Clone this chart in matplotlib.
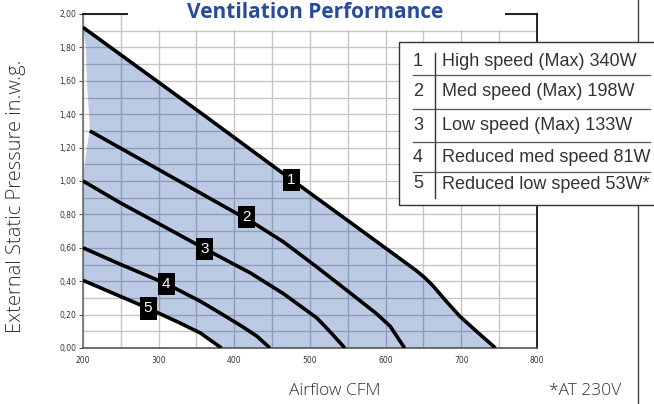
import matplotlib
matplotlib.use("Agg")
import matplotlib.pyplot as plt
from matplotlib.patches import Polygon, Rectangle
from matplotlib.lines import Line2D
from matplotlib.ticker import FuncFormatter, MultipleLocator

# === DATA ===

cfm_1 = [200, 355, 475, 560, 640, 652, 663, 680, 698, 720, 745]
esp_1 = [1.92, 1.41, 1.01, 0.73, 0.465, 0.42, 0.37, 0.28, 0.19, 0.10, 0.0]

cfm_2 = [209, 297, 368, 425, 465, 509, 553, 588, 606, 625]
esp_2 = [1.30, 1.076, 0.895, 0.75, 0.635, 0.485, 0.33, 0.205, 0.13, 0.0]

cfm_3 = [200, 249, 302, 361, 421, 465, 509, 526, 546]
esp_3 = [1.00, 0.87, 0.74, 0.594, 0.45, 0.325, 0.18, 0.10, 0.0]

cfm_4 = [200, 250, 310, 355, 381, 410, 430, 447]
esp_4 = [0.60, 0.50, 0.385, 0.28, 0.21, 0.13, 0.07, 0.0]

cfm_5 = [200, 249, 286, 328, 355, 383]
esp_5 = [0.405, 0.31, 0.238, 0.15, 0.09, 0.0]

# left edge of the shaded operating area
edge_cfm = [200, 204, 205, 208, 209, 205, 201, 200]
edge_esp = [1.92, 1.80, 1.60, 1.40, 1.30, 1.20, 1.05, 1.00]

label_nums = ["1", "2", "3", "4", "5"]
label_cfm = [475, 416, 361, 310, 286]
label_esp = [1.005, 0.785, 0.594, 0.384, 0.238]

legend_labels = [
    "High speed (Max) 340W",
    "Med speed (Max) 198W",
    "Low speed (Max) 133W",
    "Reduced med speed 81W",
    "Reduced low speed 53W*",
]

TITLE = "Ventilation Performance"
X_LABEL = "Airflow CFM"
Y_LABEL = "External Static Pressure in.w.g."
NOTE = "*AT 230V"

# === STYLE ===

W, H = 654, 404
FILL = "#bccae4"
GRID = "#c6c6c6"
GRID_IN_FILL = "#8e9dbd"
TITLE_BLUE = "#2a4a9e"
TEXT = "#333333"


def fx(px):
    return px / W


def fy(py):
    return 1 - py / H


fig = plt.figure(figsize=(W / 100, H / 100), dpi=100)
ax = fig.add_axes([fx(83), fy(348), fx(537) - fx(83), fy(14) - fy(348)])

ax.set_xlim(200, 800)
ax.set_ylim(0, 2.0)
ax.xaxis.set_major_locator(MultipleLocator(100))
ax.xaxis.set_minor_locator(MultipleLocator(50))
ax.yaxis.set_major_locator(MultipleLocator(0.2))
ax.yaxis.set_minor_locator(MultipleLocator(0.1))
ax.yaxis.set_major_formatter(FuncFormatter(lambda v, p: f"{v:.2f}".replace(".", ",")))

ax.grid(True, which="both", color=GRID, linewidth=1.0, zorder=0)
ax.set_axisbelow(True)

# shaded area between curve 1 and curve 5
poly_x = cfm_1 + cfm_5[::-1] + edge_cfm[::-1]
poly_y = esp_1 + esp_5[::-1] + edge_esp[::-1]
area = Polygon(list(zip(poly_x, poly_y)), closed=True, facecolor=FILL,
               edgecolor="none", zorder=1)
ax.add_patch(area)

# darker grid where it crosses the shaded area
for v in range(200, 801, 50):
    ln = ax.axvline(v, color=GRID_IN_FILL, linewidth=1.0, zorder=1.5)
    ln.set_clip_path(area)
for i in range(1, 20):
    ln = ax.axhline(i / 10, color=GRID_IN_FILL, linewidth=1.0, zorder=1.5)
    ln.set_clip_path(area)

curves = [(cfm_1, esp_1), (cfm_2, esp_2), (cfm_3, esp_3), (cfm_4, esp_4), (cfm_5, esp_5)]
for cx, cy in curves:
    ax.plot(cx, cy, color="black", linewidth=2.6, solid_capstyle="butt",
            solid_joinstyle="round", zorder=3)

for n, lx, ly in zip(label_nums, label_cfm, label_esp):
    ax.text(lx, ly, n, color="white", fontsize=11, ha="center", va="center",
            fontfamily="Liberation Sans", zorder=4,
            bbox=dict(boxstyle="square,pad=0.28", facecolor="black", edgecolor="none"))

# spines
ax.spines["left"].set_color("#6b6b6b")
ax.spines["bottom"].set_color("#555555")
ax.spines["right"].set_color("black")
ax.spines["top"].set_color("black")
for s in ax.spines.values():
    s.set_linewidth(1.2)

ax.tick_params(axis="y", which="major", length=3, width=0.8, color="#555555",
               labelsize=5.5, labelcolor=TEXT, pad=2)
ax.tick_params(axis="x", which="major", length=0, labelsize=5.5, labelcolor=TEXT, pad=6)
ax.tick_params(which="minor", length=0)

# white band behind the title (hides top spine and grid ends)
ax.add_patch(Rectangle((0.099, 0.951), 0.831, 0.1, transform=ax.transAxes,
                       facecolor="white", edgecolor="none", clip_on=False, zorder=5))
fig.text(fx(315), fy(12), TITLE, color=TITLE_BLUE, fontsize=15, fontweight="bold",
         fontfamily="Open Sans", ha="center", va="center", zorder=6)

# axis labels and note
fig.text(fx(16), fy(196), Y_LABEL, rotation=90, fontsize=14.5, color=TEXT,
         fontfamily="Open Sans", fontweight="light", ha="center", va="center")
fig.text(fx(335), fy(391), X_LABEL, fontsize=12.5, color=TEXT,
         fontfamily="Open Sans", fontweight="light", ha="center", va="center")
fig.text(fx(585), fy(391), NOTE, fontsize=12.5, color=TEXT,
         fontfamily="Open Sans", fontweight="light", ha="center", va="center")

# page border line on the right
fig.add_artist(Line2D([fx(638), fx(638)], [0, 1], transform=fig.transFigure,
                      color="#444444", linewidth=1.0, zorder=1))

# legend table
fig.add_artist(Rectangle((fx(399), fy(205)), fx(670) - fx(399), fy(42) - fy(205),
                         transform=fig.transFigure, facecolor="white",
                         edgecolor="#333333", linewidth=1.0, zorder=7))
fig.add_artist(Line2D([fx(435), fx(435)], [fy(53), fy(198)], transform=fig.transFigure,
                      color="#333333", linewidth=1.0, zorder=8))
for sep in [75, 109, 142, 172]:
    fig.add_artist(Line2D([fx(413), fx(650)], [fy(sep), fy(sep)],
                          transform=fig.transFigure, color="#555555",
                          linewidth=0.9, zorder=8))
row_y = [62, 92, 126, 158, 185]
for n, lab, ry in zip(label_nums, legend_labels, row_y):
    fig.text(fx(418), fy(ry - 1), n, fontsize=13, color=TEXT, fontfamily="Liberation Sans",
             ha="center", va="center", zorder=9)
    fig.text(fx(442), fy(ry), lab, fontsize=13, color=TEXT, fontfamily="Liberation Sans",
             ha="left", va="center", zorder=9)

fig.savefig("out.png", dpi=100)
